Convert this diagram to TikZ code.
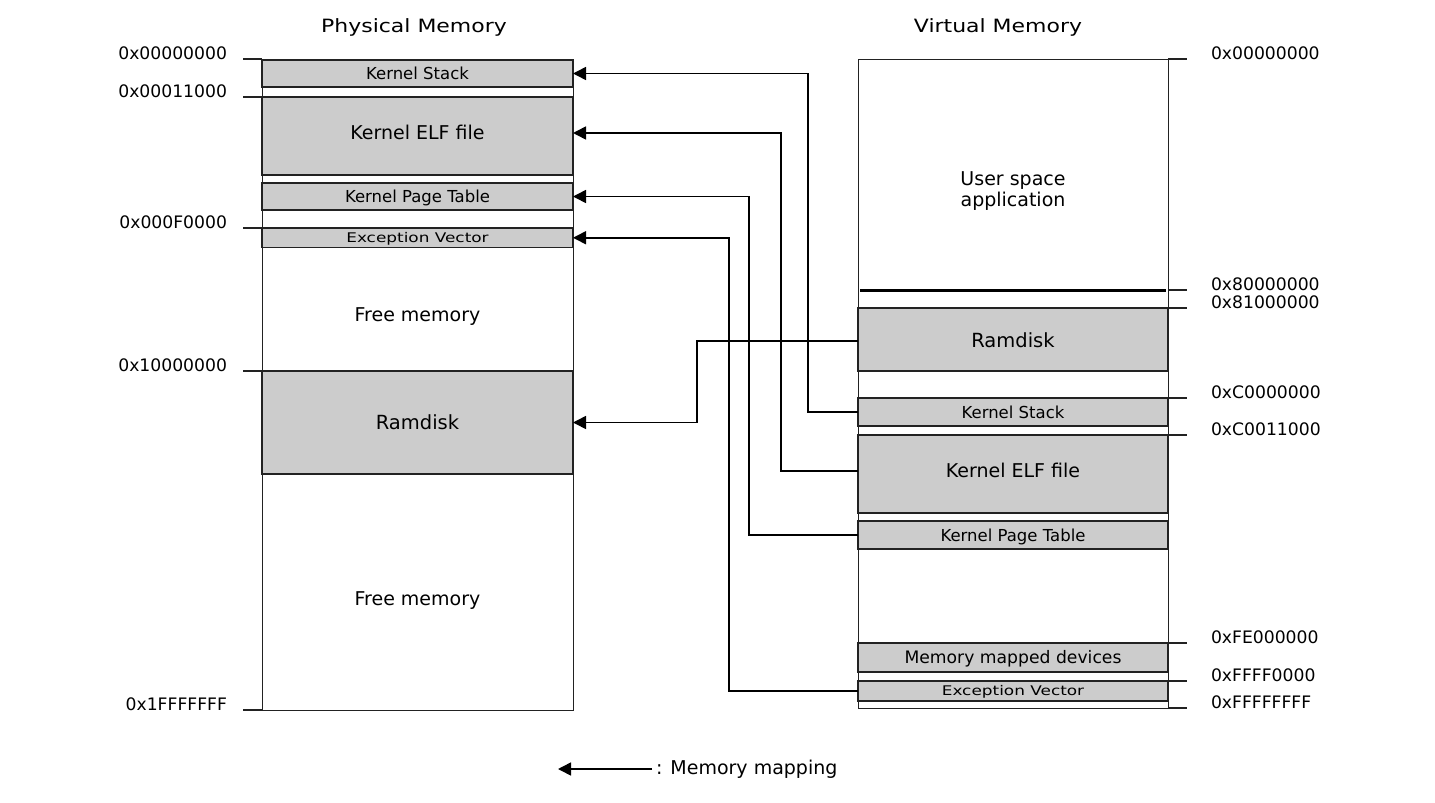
\documentclass[tikz,border=0pt]{standalone}
\usepackage{fontspec}
\setmainfont{DejaVu Sans}
\usetikzlibrary{arrows.meta}
\definecolor{boxgray}{HTML}{CCCCCC}
\definecolor{edge}{HTML}{222222}
\begin{document}
\begin{tikzpicture}[x=1pt,y=-1pt,
  every node/.style={inner sep=0pt, outer sep=0pt},
  outerbox/.style={draw=edge, line width=1pt, fill=white, anchor=north west},
  blk/.style={draw=edge, fill=boxgray, line width=1.1pt, anchor=north west, text depth=0pt},
  pw/.style={minimum width=311pt},
  vw/.style={minimum width=310pt},
  bigtxt/.style={font=\fontsize{19}{22}\selectfont, text height=13.85pt, text depth=0pt},
  rdtxt/.style={font=\fontsize{19.5}{22}\selectfont, text height=14.2pt, text depth=0pt},
  midtxt/.style={font=\fontsize{16.5}{19}\selectfont, text height=12.03pt, text depth=0pt},
  mmdtxt/.style={font=\fontsize{17.2}{20}\selectfont, text height=12.54pt, text depth=0pt},
  smalltxt/.style={font=\fontsize{13.3}{16}\selectfont, text height=9.7pt, text depth=0pt},
  addr/.style={font=\fontsize{17.2}{20}\selectfont},
  titletxt/.style={font=\fontsize{18.3}{22}\selectfont, text height=13.34pt, text depth=0pt},
  tick/.style={line width=1.1pt, draw=edge},
  map/.style={line width=1.6pt, draw=black, -{Triangle[length=13pt,width=13pt]}},
]
\useasboundingbox (0,0) rectangle (1435,803);

% titles
\node[titletxt] (tphys) at (414,26) {\scalebox{1.2}[1]{Physical Memory}};
\node[titletxt] (tvirt) at (998,26) {\scalebox{1.2}[1]{Virtual Memory}};

% physical memory
\node[outerbox, minimum width=311pt, minimum height=651pt] (phys) at (262,59) {};
\node[blk, pw, minimum height=27pt, midtxt] (pks) at (262,60) {Kernel Stack};
\node[blk, pw, minimum height=78pt] (pelf) at (262,97) {};
\node[bigtxt] (pelft) at ([yshift=3pt]pelf.center) {Kernel ELF file};
\node[blk, pw, minimum height=27pt, midtxt] (ppt) at (262,183) {Kernel Page Table};
\node[blk, pw, minimum height=19.5pt, smalltxt] (pev) at (262,228) {\scalebox{1.27}[1]{Exception Vector}};
\node[bigtxt] (pfree1) at (417.5,315) {Free memory};
\node[blk, pw, minimum height=103pt, rdtxt] (prd) at (262,371) {Ramdisk};
\node[bigtxt] (pfree2) at (417.5,599) {Free memory};

% virtual memory
\node[outerbox, minimum width=310pt, minimum height=649pt] (virt) at (858,59) {};
\node[font=\fontsize{19}{22}\selectfont, anchor=base] (us1) at (1013,185) {User space};
\node[font=\fontsize{19}{22}\selectfont, anchor=base] (us2) at (1013,206) {application};
\coordinate (ua) at (858,290);
\coordinate (ub) at (1168,290);
\draw[line width=3pt, draw=black] ([xshift=2pt]ua) -- ([xshift=-2pt]ub);
\node[blk, vw, minimum height=63pt] (vrd) at (858,308) {};
\node[rdtxt] (vrdt) at ([yshift=-1.3pt]vrd.center) {Ramdisk};
\node[blk, vw, minimum height=28pt, midtxt] (vks) at (858,398) {Kernel Stack};
\node[blk, vw, minimum height=78pt] (velf) at (858,435) {};
\node[bigtxt] (velft) at ([yshift=3pt]velf.center) {Kernel ELF file};
\node[blk, vw, minimum height=28pt, midtxt] (vpt) at (858,521) {Kernel Page Table};
\node[blk, vw, minimum height=29pt, mmdtxt] (vmmd) at (858,643) {Memory mapped devices};
\node[blk, vw, minimum height=20pt, smalltxt] (vev) at (858,681) {\scalebox{1.27}[1]{Exception Vector}};

% left ticks and addresses
\draw[tick] (phys.north west) -- ++(-19,0) node[addr, anchor=base east, xshift=-16pt] (a1) {0x00000000};
\draw[tick] (pelf.north west) -- ++(-19,0) node[addr, anchor=base east, xshift=-16pt] (a2) {0x00011000};
\draw[tick] (pev.north west) -- ++(-19,0) node[addr, anchor=base east, xshift=-16pt] (a3) {0x000F0000};
\draw[tick] (prd.north west) -- ++(-19,0) node[addr, anchor=base east, xshift=-16pt] (a4) {0x10000000};
\draw[tick] (phys.south west) -- ++(-19,0) node[addr, anchor=base east, xshift=-16pt] (a5) {0x1FFFFFFF};

% right ticks and addresses
\draw[tick] (virt.north east) -- ++(19,0) node[addr, anchor=base west, xshift=24pt] (b1) {0x00000000};
\draw[tick] (ub) -- ++(19,0) node[addr, anchor=base west, xshift=24pt] (b2) {0x80000000};
\draw[tick] (vrd.north east) -- ++(19,0) node[addr, anchor=base west, xshift=24pt] (b3) {0x81000000};
\draw[tick] (vks.north east) -- ++(19,0) node[addr, anchor=base west, xshift=24pt] (b4) {0xC0000000};
\draw[tick] (velf.north east) -- ++(19,0) node[addr, anchor=base west, xshift=24pt] (b5) {0xC0011000};
\draw[tick] (vmmd.north east) -- ++(19,0) node[addr, anchor=base west, xshift=24pt] (b6) {0xFE000000};
\draw[tick] (vev.north east) -- ++(19,0) node[addr, anchor=base west, xshift=24pt] (b7) {0xFFFF0000};
\draw[tick] (virt.south east) -- ++(19,0) node[addr, anchor=base west, xshift=24pt] (b8) {0xFFFFFFFF};

% mappings
\draw[map] (vks.west) -- ++(-50,0) |- (pks.east);
\draw[map] (velf.west |- velft.center) -- ++(-77,0) |- (pelf.east |- pelft.center);
\draw[map] (vpt.west) -- ++(-109,0) |- (ppt.east);
\draw[map] (vev.west) -- ++(-129,0) |- (pev.east);
\draw[map] (vrd.west |- vrdt.center) -- ++(-161,0) |- (prd.east);

% legend
\node[font=\fontsize{19}{22}\selectfont, anchor=west, inner sep=4pt] (lgt) at (652,769) {: Memory mapping};
\coordinate (lgb) at (558,769);
\draw[map] (lgt.west) -- (lgb);
\end{tikzpicture}
\end{document}
